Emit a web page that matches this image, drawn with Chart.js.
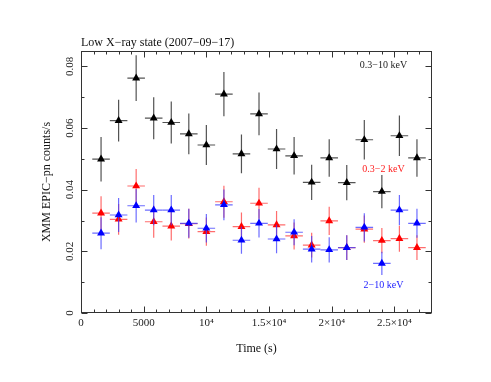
<!DOCTYPE html>
<html><head><meta charset="utf-8">
<script src="https://cdn.jsdelivr.net/npm/chart.js@4"></script>
<style>html,body{margin:0;padding:0;background:#fff;}#wrap{width:491px;height:382px;}</style>
</head><body><div id="wrap"><canvas id="c" width="491" height="382"></canvas></div>
<script>
// ---- data ----
const timeBins = [1600,3000,4400,5800,7200,8600,10000,11400,12800,14200,15600,17000,18400,19800,21200,22600,24000,25400,26800];
const timeHalfWidth = 700;
const rateTotal = [0.0499,0.0624,0.0762,0.0632,0.0618,0.0581,0.0545,0.0710,0.0516,0.0646,0.0532,0.0510,0.0424,0.0503,0.0423,0.0562,0.0394,0.0575,0.0503];
const errTotal  = [0.0072,0.0068,0.0074,0.0068,0.0068,0.0066,0.0065,0.0072,0.0063,0.0069,0.0065,0.0061,0.0057,0.0061,0.0057,0.0064,0.0054,0.0066,0.0061];
const rateSoft  = [0.0324,0.0304,0.0412,0.0296,0.0282,0.0290,0.0264,0.0361,0.0280,0.0356,0.0286,0.0250,0.0220,0.0299,0.0212,0.0272,0.0235,0.0241,0.0212];
const errSoft   = [0.0055,0.0050,0.0055,0.0052,0.0047,0.0048,0.0046,0.0052,0.0046,0.0050,0.0045,0.0044,0.0040,0.0046,0.0040,0.0044,0.0041,0.0042,0.0040];
const rateHard  = [0.0259,0.0318,0.0348,0.0334,0.0334,0.0291,0.0275,0.0351,0.0236,0.0291,0.0240,0.0262,0.0207,0.0205,0.0212,0.0278,0.0161,0.0334,0.0291];
const errHard   = [0.0052,0.0055,0.0054,0.0049,0.0049,0.0047,0.0046,0.0050,0.0044,0.0046,0.0046,0.0042,0.0043,0.0041,0.0040,0.0046,0.0038,0.0049,0.0047];
const seriesNames = ['0.3\u221210 keV','0.3\u22122 keV','2\u221210 keV'];
const xMajorTicks = [0,5000,10000,15000,20000,25000];
const xTickLabels = ['0','5000','10\u2074','1.5\u00d710\u2074','2\u00d710\u2074','2.5\u00d710\u2074'];
const xMinorTicks = [1000,2000,3000,4000,6000,7000,8000,9000,11000,12000,13000,14000,16000,17000,18000,19000,21000,22000,23000,24000,26000,27000];
const yMajorTicks = [0,0.02,0.04,0.06,0.08];
const yTickLabels = ['0','0.02','0.04','0.06','0.08'];
const yMinorTicks = [0.01,0.03,0.05,0.07];
const chartTitle = 'Low X\u2212ray state (2007\u221209\u221217)';
const xTitle = 'Time (s)';
const yTitle = 'XMM EPIC\u2212pn counts/s';

const SERIF = "'Liberation Serif','Times New Roman',serif";

function pts(rates, errs){
  return timeBins.map((t,i)=>({x:t, y:rates[i], xErr:timeHalfWidth, yErr:errs[i]}));
}

const errorBarPlugin = {
  id:'errorBars',
  beforeDatasetDraw(chart, args){
    const ds = chart.data.datasets[args.index];
    const xs = chart.scales.x, ys = chart.scales.y, ctx = chart.ctx;
    ctx.save();
    ctx.strokeStyle = ds.errColor; ctx.lineWidth = 1.2;
    ds.data.forEach(p=>{
      const px = xs.getPixelForValue(p.x), py = ys.getPixelForValue(p.y);
      ctx.beginPath();
      ctx.moveTo(xs.getPixelForValue(p.x - p.xErr), py);
      ctx.lineTo(xs.getPixelForValue(p.x + p.xErr), py);
      ctx.moveTo(px, ys.getPixelForValue(p.y - p.yErr));
      ctx.lineTo(px, ys.getPixelForValue(p.y + p.yErr));
      ctx.stroke();
    });
    ctx.restore();
  }
};

const framePlugin = {
  id:'frame',
  beforeDatasetsDraw(chart){
    const {ctx, chartArea:a} = chart, xs = chart.scales.x, ys = chart.scales.y;
    const L = Math.round(a.left)+0.5, R = Math.round(a.right)-0.5, T = Math.round(a.top)+0.5, B = Math.round(a.bottom)-0.5;
    ctx.save();
    ctx.strokeStyle = '#333'; ctx.lineWidth = 1;
    ctx.strokeRect(L, T, R-L, B-T);
    ctx.beginPath();
    const tx = (v,len)=>{ const p = Math.round(xs.getPixelForValue(v))+0.5; ctx.moveTo(p,B); ctx.lineTo(p,B-len); ctx.moveTo(p,T); ctx.lineTo(p,T+len); };
    const ty = (v,len)=>{ const p = Math.round(ys.getPixelForValue(v))+0.5; ctx.moveTo(L,p); ctx.lineTo(L+len,p); ctx.moveTo(R,p); ctx.lineTo(R-len,p); };
    xMajorTicks.forEach(v=>tx(v,6)); xMinorTicks.forEach(v=>tx(v,3));
    yMajorTicks.forEach(v=>ty(v,6)); yMinorTicks.forEach(v=>ty(v,3));
    ctx.stroke();
    ctx.restore();
  },
  afterDraw(chart){
    const {ctx, chartArea:a} = chart, ys = chart.scales.y;
    ctx.save();
    ctx.textBaseline = 'middle';
    ctx.font = '12px ' + SERIF;
    ctx.fillStyle = '#111'; ctx.textAlign = 'left';
    ctx.fillText(chartTitle, a.left, 43);
    ctx.font = '10px ' + SERIF; ctx.textAlign = 'center';
    const cx = 383.5;
    ctx.fillStyle = '#222'; ctx.fillText(seriesNames[0], cx, 65);
    ctx.fillStyle = '#ff2020'; ctx.fillText(seriesNames[1], cx, 169.5);
    ctx.fillStyle = '#2020ff'; ctx.fillText(seriesNames[2], cx, 285.5);
    ctx.restore();
  }
};

new Chart(document.getElementById('c'), {
  type:'scatter',
  data:{datasets:[
    {label:seriesNames[2], data:pts(rateHard,errHard), order:0, pointStyle:'triangle', pointRadius:4.6, backgroundColor:'#0000ff', borderColor:'#0000ff', borderWidth:0, errColor:'rgba(60,60,255,0.75)'},
    {label:seriesNames[1], data:pts(rateSoft,errSoft), order:1, pointStyle:'triangle', pointRadius:4.6, backgroundColor:'#ff0000', borderColor:'#ff0000', borderWidth:0, errColor:'rgba(255,60,60,0.75)'},
    {label:seriesNames[0], data:pts(rateTotal,errTotal), order:2, pointStyle:'triangle', pointRadius:4.6, backgroundColor:'#000000', borderColor:'#000000', borderWidth:0, errColor:'rgba(40,40,40,0.8)'}
  ]},
  options:{
    responsive:false, animation:false, devicePixelRatio:1,
    layout:{padding:{left:36, right:59, top:51, bottom:22}},
    plugins:{legend:{display:false}, tooltip:{enabled:false}},
    scales:{
      x:{type:'linear', min:0, max:28000,
        grid:{display:false, drawTicks:false}, border:{display:false},
        afterBuildTicks:s=>{ s.ticks = xMajorTicks.map(v=>({value:v})); },
        afterFit:s=>{ s.height = 47; },
        ticks:{padding:4, color:'#222', font:{family:SERIF, size:11}, callback:(v,i)=>xTickLabels[i]},
        title:{display:true, text:xTitle, color:'#111', font:{family:SERIF, size:12}, padding:{top:0,bottom:4}}
      },
      y:{type:'linear', min:0, max:0.085,
        grid:{display:false, drawTicks:false}, border:{display:false},
        afterBuildTicks:s=>{ s.ticks = yMajorTicks.map(v=>({value:v})); },
        afterFit:s=>{ s.width = 45; },
        ticks:{padding:1, minRotation:90, maxRotation:90, crossAlign:'center', color:'#222', font:{family:SERIF, size:11}, callback:(v,i)=>yTickLabels[i]},
        title:{display:true, text:yTitle, color:'#111', font:{family:SERIF, size:12}, padding:{top:4,bottom:0}}
      }
    }
  },
  plugins:[errorBarPlugin, framePlugin]
});
</script></body></html>
